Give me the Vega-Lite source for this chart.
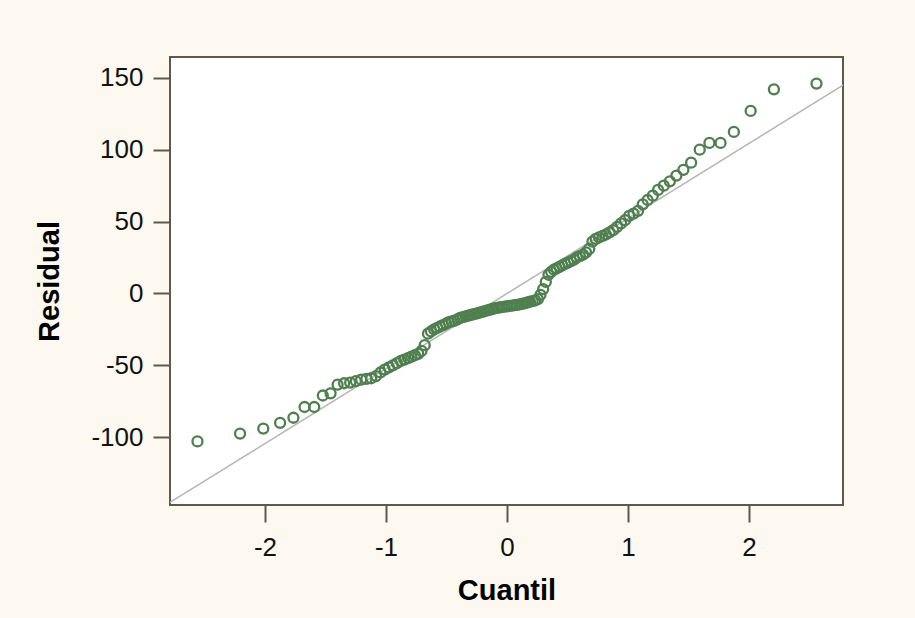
{
  "$schema": "https://vega.github.io/schema/vega-lite/v6.json",
  "autosize": "none",
  "width": 673,
  "height": 448,
  "padding": {"left": 170, "top": 57, "right": 72, "bottom": 113},
  "background": "#FDF9F0",
  "config": {
    "view": {"fill": "#FFFFFF", "stroke": "#5E5A4B", "strokeWidth": 2},
    "font": "Liberation Sans",
    "axis": {
      "grid": false,
      "domain": false,
      "tickColor": "#5E5A4B",
      "tickWidth": 2,
      "tickSize": 17,
      "labelFont": "Liberation Sans",
      "labelFontSize": 26,
      "labelColor": "#111111",
      "labelExpr": "'' + datum.value",
      "titleFont": "Liberation Sans",
      "titleFontSize": 29,
      "titleFontWeight": "bold",
      "titleColor": "#000000"
    }
  },
  "datasets": {
    "residuos": [
      {"q": -2.558, "r": -103}, {"q": -2.206, "r": -97.5}, {"q": -2.014, "r": -94}, {"q": -1.875, "r": -90},
      {"q": -1.765, "r": -86.5}, {"q": -1.673, "r": -79}, {"q": -1.593, "r": -79}, {"q": -1.522, "r": -71},
      {"q": -1.458, "r": -69.5}, {"q": -1.4, "r": -63.5}, {"q": -1.346, "r": -62.5}, {"q": -1.296, "r": -62},
      {"q": -1.249, "r": -61}, {"q": -1.205, "r": -60}, {"q": -1.162, "r": -59.5}, {"q": -1.122, "r": -59},
      {"q": -1.083, "r": -57.5}, {"q": -1.046, "r": -55}, {"q": -1.01, "r": -53}, {"q": -0.976, "r": -51.5},
      {"q": -0.943, "r": -50}, {"q": -0.91, "r": -48.5}, {"q": -0.878, "r": -47}, {"q": -0.848, "r": -46},
      {"q": -0.818, "r": -45}, {"q": -0.79, "r": -44}, {"q": -0.761, "r": -43}, {"q": -0.733, "r": -42},
      {"q": -0.706, "r": -40}, {"q": -0.68, "r": -36}, {"q": -0.653, "r": -28}, {"q": -0.628, "r": -26.5},
      {"q": -0.602, "r": -25}, {"q": -0.577, "r": -24}, {"q": -0.553, "r": -23}, {"q": -0.528, "r": -22},
      {"q": -0.504, "r": -21}, {"q": -0.48, "r": -20}, {"q": -0.457, "r": -19.5}, {"q": -0.434, "r": -19},
      {"q": -0.41, "r": -18}, {"q": -0.388, "r": -17}, {"q": -0.365, "r": -16.5}, {"q": -0.343, "r": -16},
      {"q": -0.321, "r": -15.5}, {"q": -0.299, "r": -15}, {"q": -0.277, "r": -14.5}, {"q": -0.255, "r": -14},
      {"q": -0.233, "r": -13.5}, {"q": -0.212, "r": -13}, {"q": -0.19, "r": -12.5}, {"q": -0.169, "r": -12},
      {"q": -0.148, "r": -11.5}, {"q": -0.127, "r": -11}, {"q": -0.105, "r": -10.5}, {"q": -0.084, "r": -10},
      {"q": -0.063, "r": -9.8}, {"q": -0.042, "r": -9.5}, {"q": -0.021, "r": -9.2}, {"q": 0, "r": -9},
      {"q": 0.021, "r": -8.7}, {"q": 0.042, "r": -8.5}, {"q": 0.063, "r": -8.2}, {"q": 0.084, "r": -8},
      {"q": 0.105, "r": -7.6}, {"q": 0.127, "r": -7.2}, {"q": 0.148, "r": -6.8}, {"q": 0.169, "r": -6.3},
      {"q": 0.19, "r": -5.8}, {"q": 0.212, "r": -5.3}, {"q": 0.233, "r": -4.8}, {"q": 0.255, "r": -4},
      {"q": 0.277, "r": -1}, {"q": 0.299, "r": 3}, {"q": 0.321, "r": 8}, {"q": 0.343, "r": 13},
      {"q": 0.365, "r": 15}, {"q": 0.388, "r": 16.5}, {"q": 0.41, "r": 17.5}, {"q": 0.434, "r": 18.5},
      {"q": 0.457, "r": 19.5}, {"q": 0.48, "r": 20.5}, {"q": 0.504, "r": 21.5}, {"q": 0.528, "r": 22.5},
      {"q": 0.553, "r": 23.5}, {"q": 0.577, "r": 25}, {"q": 0.602, "r": 26}, {"q": 0.628, "r": 27},
      {"q": 0.653, "r": 28.5}, {"q": 0.68, "r": 31}, {"q": 0.706, "r": 36}, {"q": 0.733, "r": 38},
      {"q": 0.761, "r": 39}, {"q": 0.79, "r": 40}, {"q": 0.818, "r": 41}, {"q": 0.848, "r": 42.5},
      {"q": 0.878, "r": 44}, {"q": 0.91, "r": 46.3}, {"q": 0.943, "r": 48.7}, {"q": 0.976, "r": 51},
      {"q": 1.01, "r": 54}, {"q": 1.046, "r": 55.5}, {"q": 1.083, "r": 57.5}, {"q": 1.122, "r": 62},
      {"q": 1.162, "r": 65}, {"q": 1.205, "r": 68}, {"q": 1.249, "r": 72}, {"q": 1.296, "r": 75},
      {"q": 1.346, "r": 78}, {"q": 1.4, "r": 82}, {"q": 1.458, "r": 86}, {"q": 1.522, "r": 91},
      {"q": 1.593, "r": 100}, {"q": 1.673, "r": 104.7}, {"q": 1.765, "r": 104.7}, {"q": 1.875, "r": 112.4},
      {"q": 2.014, "r": 127}, {"q": 2.206, "r": 142}, {"q": 2.558, "r": 146}
    ],
    "referencia": [
      {"q": -2.9, "r": -151.4},
      {"q": 2.9, "r": 151.4}
    ]
  },
  "layer": [
    {
      "data": {"name": "referencia"},
      "mark": {"type": "line", "color": "#B5B5B5", "strokeWidth": 1.5, "clip": true},
      "encoding": {
        "x": {"field": "q", "type": "quantitative"},
        "y": {"field": "r", "type": "quantitative"}
      }
    },
    {
      "data": {"name": "residuos"},
      "mark": {"type": "point", "shape": "circle", "filled": false, "color": "#4F7F4F", "strokeWidth": 2.3, "size": 100, "opacity": 1, "clip": true},
      "encoding": {
        "x": {
          "field": "q",
          "type": "quantitative",
          "title": "Cuantil",
          "scale": {"domain": [-2.785, 2.777], "nice": false, "zero": false},
          "axis": {"values": [-2, -1, 0, 1, 2], "labelPadding": 12, "titlePadding": 16}
        },
        "y": {
          "field": "r",
          "type": "quantitative",
          "title": "Residual",
          "scale": {"domain": [-147.2, 164.5], "nice": false, "zero": false},
          "axis": {"values": [-100, -50, 0, 50, 100, 150], "labelPadding": 10, "titlePadding": 26}
        }
      }
    }
  ]
}
